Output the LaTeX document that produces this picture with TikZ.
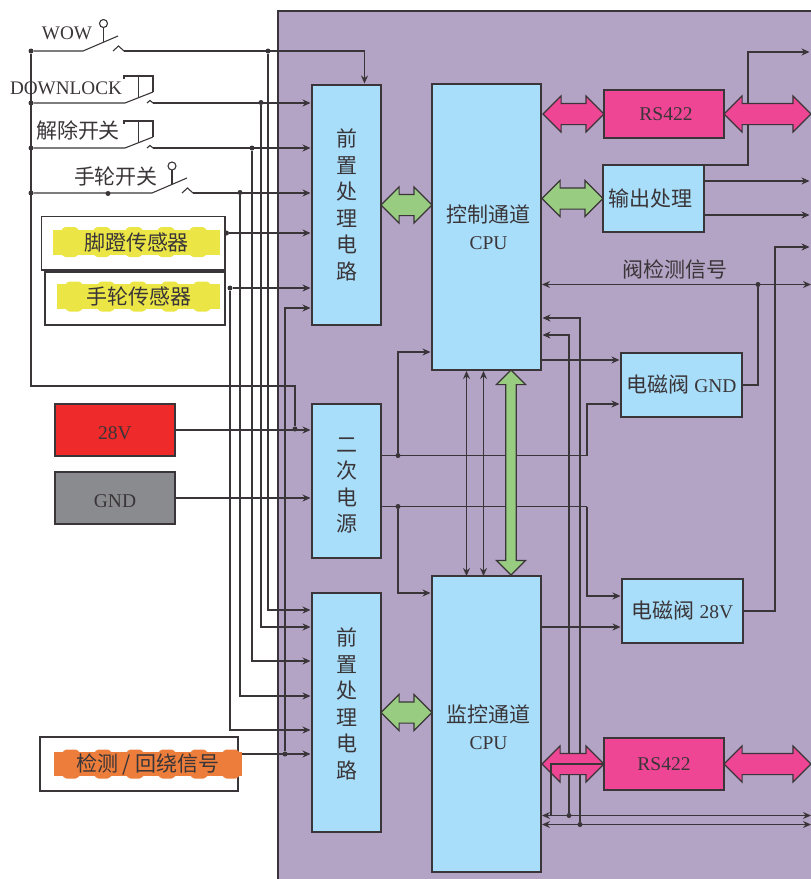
\documentclass[tikz,border=0pt]{standalone}
\usepackage{fontspec}
\usepackage{xcolor}
\usetikzlibrary{positioning,arrows.meta,shapes.arrows}
\setmainfont{Liberation Serif}
\newfontfamily\cnfont{Noto Sans CJK SC}
\newcommand{\cn}[1]{{\cnfont\cnsize #1}}
\newcommand{\cnsize}{\fontsize{21}{26.5}\selectfont}
\newcommand{\latfont}{\fontsize{19.5}{26.5}\selectfont}
\definecolor{linec}{HTML}{3A3538}
\definecolor{panelc}{HTML}{B3A3C4}
\definecolor{blockc}{HTML}{A8DEFA}
\definecolor{pinkc}{HTML}{EF4595}
\definecolor{greenc}{HTML}{97CC81}
\definecolor{redc}{HTML}{EE2A2A}
\definecolor{greyc}{HTML}{8A8B8E}
\definecolor{yellowc}{HTML}{EBE645}
\definecolor{orangec}{HTML}{EC7D3A}

\begin{document}
\begin{tikzpicture}[
  x=1pt, y=-1pt,
  every node/.style={text=linec, font=\latfont},
  block/.style={rectangle, draw=linec, line width=1.1pt, fill=blockc, inner sep=0pt, outer sep=0pt, align=center},
  stack/.style={block, minimum width=69pt, font=\cnsize\cnfont},
  source/.style={block, minimum width=120pt, minimum height=52pt},
  frame/.style={rectangle, draw=linec, line width=1.1pt, fill=white, inner sep=0pt, outer sep=0pt},
  hilite/.style={rectangle, fill=#1, inner sep=0pt, outer sep=0pt, font=\cnsize\cnfont},
  biarrow/.style={double arrow, draw=linec, line width=1.1pt, fill=#1, inner xsep=0pt, inner ysep=10pt, outer sep=0pt, double arrow head extend=7.5pt, double arrow tip angle=90},
  dot/.style={circle, fill=linec, inner sep=0pt, minimum size=5pt},
  knob/.style={circle, draw=linec, line width=1.1pt, fill=white, inner sep=0pt, minimum size=8pt},
  wire/.style={draw=linec, line width=1.1pt},
  arr/.style={wire, -{Stealth[length=8pt,width=7pt]}, shorten >=1.5pt},
  both/.style={wire, {Stealth[length=8pt,width=7pt]}-{Stealth[length=8pt,width=7pt]}, shorten <=1pt}
]
\useasboundingbox (0,0) rectangle (811,879);
\fill[panelc] (278,11) rectangle (820,890);
\draw[linec, line width=1.4pt] (278,890) -- (278,11) -- (820,11);

% blocks
\node[stack, minimum height=240pt] (preup) at (346.5,205) {前\\置\\处\\理\\电\\路};
\node[stack, minimum height=154pt, below=79pt of preup] (power) {\mbox{}\\[-3pt]二\\次\\电\\源};
\node[stack, minimum height=239pt, below=35pt of power] (prelo) {前\\置\\处\\理\\电\\路\\[-8pt]\mbox{}};
\node[block, minimum width=109pt, minimum height=286pt, right=51pt of preup, yshift=-22pt] (ctrl) {\hspace*{4pt}\cn{控制通道}\\\hspace*{4pt}CPU};
\node[block, minimum width=109pt, minimum height=296pt, below=206pt of ctrl] (mon) {\mbox{}\\[-2.5pt]\hspace*{4pt}\cn{监控通道}\\\hspace*{4pt}CPU};
\node[block, fill=pinkc, minimum width=120pt, minimum height=48pt, right=63pt of ctrl, yshift=113pt] (rsup) {\hspace*{4pt}RS422};
\node[block, minimum width=101pt, minimum height=67pt, font=\cnsize\cnfont, right=62pt of ctrl, yshift=28.5pt] (outp) {输出处理\hspace{6pt}};
\node[block, minimum width=121pt, minimum height=64pt, right=80pt of ctrl, yshift=-158pt] (vgnd) {\cn{电磁阀} GND};
\node[block, minimum width=121pt, minimum height=64pt, right=81pt of mon, yshift=113pt] (vdc) {\cn{电磁阀} 28V};
\node[block, fill=pinkc, minimum width=120pt, minimum height=52pt, right=63pt of mon, yshift=-40pt] (rslo) {RS422};
\node[source, fill=redc] (src) at (115,430) {\mbox{}\\[-6.5pt]28V\hspace{8pt}};
\node[source, fill=greyc, below=16pt of src] (gnd) {\mbox{}\\[-6.5pt]GND\hspace{3pt}};

% sensors
\node[frame, minimum width=183.5pt, minimum height=53.5pt] (footbox) at (133.25,243.25) {};
\node[frame, minimum width=180pt, minimum height=53pt] (handbox) at (135,298.5) {};
\node[frame, minimum width=198pt, minimum height=54pt] (backbox) at (139,764) {};
\node[hilite=yellowc, minimum width=167pt, minimum height=25pt] (foot) at (136.5,242) {脚蹬传感器\hspace{7pt}};
\node[hilite=yellowc, minimum width=163pt, minimum height=25pt] (hand) at (138.5,296.5) {手轮传感器\hspace{11pt}};
\node[hilite=orangec, minimum width=188pt, minimum height=24pt] (back) at (148,764) {检测 / 回绕信号\hspace{7pt}};
\foreach \nd/\col/\last in {foot/yellowc/136,hand/yellowc/136,back/orangec/168}
  \foreach \k in {8,40,...,\last} {
    \fill[\col, rounded corners=1.5pt] ([xshift=\k pt, yshift=-1pt]\nd.north west) -- ++(3,-3.5) -- ++(12,0) -- ++(3,3.5) -- cycle;
    \fill[\col, rounded corners=1.5pt] ([xshift=\k pt, yshift=1pt]\nd.south west) -- ++(3,3.5) -- ++(12,0) -- ++(3,-3.5) -- cycle;
  }

% labels
\node[font=\fontsize{19.2}{22}\selectfont] (wowtxt) at (67,33) {WOW};
\node[font=\fontsize{19.2}{22}\selectfont] (locktxt) at (66,88) {DOWNLOCK};
\node[font=\cnsize\cnfont] (freetxt) at (78,130) {解除开关};
\node[font=\cnsize\cnfont] (wheeltxt) at (116,177) {手轮开关};
\node[font=\cnsize\cnfont] (sigtxt) at (675,269) {阀检测信号};

% junctions
\node[dot] (dwow) at (31,51) {};
\node[dot] (dlock) at (31,103) {};
\node[dot] (dfree) at (31,148) {};
\node[dot] (dwheel) at (31,193) {};
\node[dot] (dmid) at (108,193.5) {};
\node[dot] (dja) at (268,51) {};
\node[dot] (djb) at (261,102.5) {};
\node[dot] (djc) at (252,148) {};
\node[dot] (djd) at (240,192.5) {};
\node[dot] (dfoot) at (226.5,233) {};
\node[dot] (djf) at (230,288) {};
\node[dot] (dback) at (285,754) {};
\node[dot] (dpow) at (295,429) {};
\node[dot] (dpa) at (398,455.5) {};
\node[dot] (dpb) at (398,506.5) {};
\node[dot] (dsig) at (758,284.5) {};
\node[dot] (dbusa) at (569,815.5) {};
\node[dot] (dbusb) at (580,824.5) {};

\coordinate (buscor) at (31,386);
\coordinate (wowa) at (83,51);
\coordinate (wowb) at (124,51);
\coordinate (locka) at (125,103);
\coordinate (lockb) at (147,103);
\coordinate (freea) at (125,148);
\coordinate (freeb) at (147,148);
\coordinate (wheela) at (152,193);
\coordinate (wheelb) at (193,193);
\coordinate (turna) at (587,455.5);
\coordinate (turnb) at (587,506.5);
\coordinate (turnc) at (748,165);
\coordinate (turnd) at (775,611);
\coordinate (outa) at (811,52);
\coordinate (outb) at (811,181);
\coordinate (outc) at (811,215);
\coordinate (outd) at (811,247);
\coordinate (sigr) at (811,284.5);
\coordinate (busl) at (551,815.5);
\coordinate (busra) at (811,815.5);
\coordinate (busrb) at (811,824.5);

% switches
\draw[wire] (dwow) -- (wowa) -- ++(35,-15);
\draw[wire] (103.5,42) -- (103.5,27);
\node[knob] (wowknob) at (103.5,23.5) {};
\draw[wire] (113,51) -- (118.5,46) -- (wowb);
\draw[wire] (dlock) -- (locka) -- ++(28,-11);
\draw[wire] (124,79) -- (124,76) -- (153,76) -- (153,92);
\draw[wire] (138.5,76) -- (138.5,98);
\draw[wire] (lockb) -- (150,100.5) -- (153,103);
\draw[wire] (dfree) -- (freea) -- ++(28,-11);
\draw[wire] (124,124) -- (124,121) -- (153,121) -- (153,137);
\draw[wire] (138.5,121) -- (138.5,143);
\draw[wire] (freeb) -- (150,145.5) -- (153,148);
\draw[wire] (dwheel) -- (wheela) -- ++(35,-15);
\draw[wire] (172,184) -- (172,170);
\node[knob] (wheelknob) at (172,166) {};
\draw[wire] (182,193) -- (187.5,188) -- (wheelb);

% left wiring
\draw[wire] (dwow) -- (buscor) -| (dpow);
\draw[arr] (wowb) -| ([xshift=18pt]preup.north);
\draw[arr] (153,103) -- ([yshift=-18pt]preup.north west);
\draw[arr] (153,148) -- ([yshift=-63pt]preup.north west);
\draw[arr] (wheelb) -- ([yshift=-108pt]preup.north west);
\draw[arr, line width=1.5pt] (dfoot) -- ([yshift=-148pt]preup.north west);
\draw[arr, line width=1.5pt] (djf) -- ([yshift=-203pt]preup.north west);
\draw[arr] (dback) |- ([yshift=-223pt]preup.north west);
\draw[arr] (dja) |- ([yshift=-17pt]prelo.north west);
\draw[arr] (djb) |- ([yshift=-34pt]prelo.north west);
\draw[arr] (djc) |- ([yshift=-68pt]prelo.north west);
\draw[arr] (djd) |- ([yshift=-103pt]prelo.north west);
\draw[arr] (djf) |- ([yshift=-137pt]prelo.north west);
\draw[arr] ([yshift=10pt]back.east) -- ([yshift=-161pt]prelo.north west);
\draw[arr] (src) -- (src -| power.west);
\draw[arr] (gnd) -- (gnd -| power.west);

% power wiring
\draw[wire] ([yshift=-51.5pt]power.north east) -- (turna);
\draw[wire] ([yshift=-102.5pt]power.north east) -- (turnb);
\draw[arr] (dpa) |- ([yshift=-268pt]ctrl.north west);
\draw[arr] (dpb) |- ([yshift=-17pt]mon.north west);
\draw[arr] (turna) |- ([yshift=-51pt]vgnd.north west);
\draw[arr] (turnb) |- ([yshift=-17pt]vdc.north west);

% right wiring
\draw[arr] ([yshift=-276pt]ctrl.north east) -- ([yshift=-7pt]vgnd.north west);
\draw[arr] ([yshift=-51pt]mon.north east) -- ([yshift=-48pt]vdc.north west);
\draw[arr] (outp.north east) -- (turnc) |- (outa);
\draw[arr] ([yshift=-16pt]outp.north east) -- (outb);
\draw[arr] ([yshift=-50pt]outp.north east) -- (outc);
\draw[both] ([yshift=-200.5pt]ctrl.north east) -- (sigr);
\draw[wire] (vgnd.east) -| (dsig);
\draw[arr] (vdc.east) -- (turnd) |- (outd);
\draw[arr] (dbusa) |- ([yshift=-251pt]ctrl.north east);
\draw[arr] (dbusb) |- ([yshift=-234pt]ctrl.north east);
\draw[both] ([yshift=-239.5pt]mon.north east) -- (busra);
\draw[both] ([yshift=-248.5pt]mon.north east) -- (busrb);
\draw[both] ([xshift=-20pt]ctrl.south) -- ([xshift=-20pt]mon.north);
\draw[both] ([xshift=-3pt]ctrl.south) -- ([xshift=-3pt]mon.north);

% wide buses
\node[biarrow=greenc, minimum height=51pt, right=0pt of preup] (busup) {};
\node[biarrow=greenc, minimum height=51pt, right=0pt of prelo] (buslo) {};
\node[biarrow=greenc, minimum height=61pt, left=0pt of outp] (busout) {};
\node[biarrow=pinkc, minimum height=61pt, left=0pt of rsup] (rsupl) {};
\node[biarrow=pinkc, minimum height=87pt, right=0pt of rsup] (rsupr) {};
\node[biarrow=pinkc, minimum height=62pt, left=0pt of rslo] (rslol) {};
\node[biarrow=pinkc, minimum height=87pt, right=0pt of rslo] (rslor) {};
\node[biarrow=greenc, inner xsep=4.7pt, inner ysep=0pt, double arrow head extend=9.3pt, minimum height=205pt, shape border rotate=90, below=0pt of ctrl, xshift=24.5pt] (buscpu) {};
\draw[wire] (busl) |- (rslo.west);
\end{tikzpicture}
\end{document}
